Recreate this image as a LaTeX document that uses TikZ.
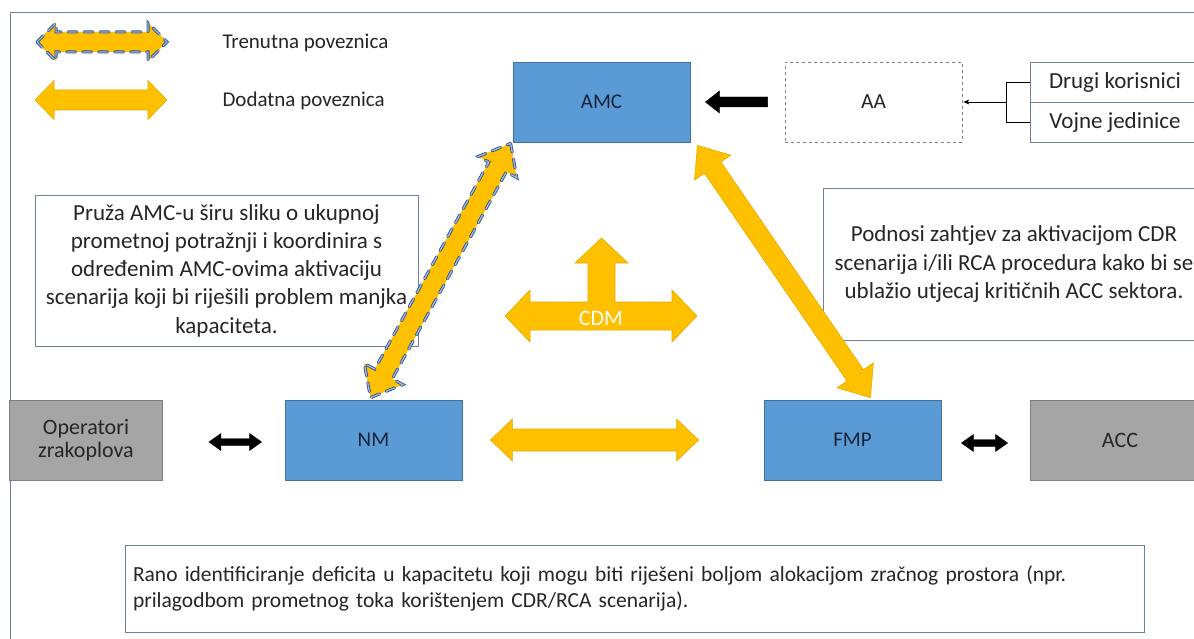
\documentclass[tikz,border=0pt]{standalone}
\usepackage{fontspec}
\setmainfont{Carlito}
\usetikzlibrary{calc,arrows.meta}
\definecolor{boxblue}{HTML}{5B9BD5}
\definecolor{boxblueedge}{HTML}{41719C}
\definecolor{boxgray}{HTML}{A5A5A5}
\definecolor{grayedge}{HTML}{7F7F7F}
\definecolor{orng}{HTML}{FFC000}
\definecolor{orngedge}{HTML}{E6AC00}
\definecolor{frameclr}{HTML}{6F8196}
\definecolor{txt}{HTML}{262626}
\definecolor{navytxt}{HTML}{17243A}
\definecolor{dashdark}{HTML}{2F4E86}
\definecolor{dashlight}{HTML}{9CB6DE}

% double-headed fat arrow: style, start, end, shaft half width, head half width, head length
\newcommand{\fatdarrow}[6]{%
  \coordinate (fa1) at ($(#2)!#6!(#3)$);
  \coordinate (fa2) at ($(#3)!#6!(#2)$);
  \path[#1] (#2) -- ($(fa1)!#5!90:(#3)$) -- ($(fa1)!#4!90:(#3)$)
    -- ($(fa2)!#4!-90:(#2)$) -- ($(fa2)!#5!-90:(#2)$) -- (#3)
    -- ($(fa2)!#5!90:(#2)$) -- ($(fa2)!#4!90:(#2)$)
    -- ($(fa1)!#4!-90:(#3)$) -- ($(fa1)!#5!-90:(#3)$) -- cycle;
}
% single-headed fat arrow (tip at end)
\newcommand{\fatsarrow}[6]{%
  \coordinate (fa2) at ($(#3)!#6!(#2)$);
  \path[#1] ($(#2)!#4!90:(#3)$)
    -- ($(fa2)!#4!-90:(#2)$) -- ($(fa2)!#5!-90:(#2)$) -- (#3)
    -- ($(fa2)!#5!90:(#2)$) -- ($(fa2)!#4!90:(#2)$)
    -- ($(#2)!#4!-90:(#3)$) -- cycle;
}

\tikzset{
  bluebox/.style={rectangle, fill=boxblue, draw=boxblueedge, line width=0.8pt,
    minimum width=177pt, minimum height=80pt, text=navytxt,
    font=\fontsize{21}{25}\selectfont},
  graybox/.style={rectangle, fill=boxgray, draw=grayedge, line width=0.8pt,
    minimum height=80pt, text=txt, align=center,
    font=\fontsize{22}{26}\selectfont},
  aabox/.style={rectangle, fill=white, draw=grayedge, dashed, line width=0.8pt,
    minimum width=177pt, minimum height=80pt, text=txt,
    font=\fontsize{21.5}{25}\selectfont},
  listbox/.style={rectangle, fill=white, draw=frameclr, line width=0.8pt,
    minimum width=170pt, minimum height=40pt, text=txt,
    font=\fontsize{23}{26}\selectfont},
  textbox/.style={rectangle, fill=white, draw=frameclr, line width=0.8pt,
    align=center, text=txt, inner sep=0pt,
    font=\fontsize{23}{28.3}\selectfont},
  legendtxt/.style={anchor=west, text=txt, font=\fontsize{21}{25}\selectfont},
  orfill/.style={fill=orng, draw=orngedge, line width=0.6pt, line join=miter},
  blfill/.style={fill=black, draw=black, line width=0.4pt},
  dashout/.style={draw=dashdark, line width=3pt, dash pattern=on 9pt off 7pt, line cap=round},
  dashin/.style={draw=dashlight, line width=1.4pt, dash pattern=on 9pt off 7pt, line cap=round},
}

\begin{document}
\begin{tikzpicture}[x=1pt,y=-1pt]
\useasboundingbox (0,0) rectangle (1194,639);
\clip (0,0) rectangle (1194,639);
\fill[white] (0,0) rectangle (1194,639);

% outer frame
\draw[frameclr, line width=0.8pt] (10,660) -- (10,12) -- (1210,12);

% text boxes (drawn first so that the arrows lie over them)
\node[textbox, minimum width=383pt, minimum height=151pt] (tl) at (226.5,270.5)
  {Pruža AMC-u širu sliku o ukupnoj\\prometnoj potražnji i koordinira s\\određenim AMC-ovima aktivaciju\\scenarija koji bi riješili problem manjka\\kapaciteta.};
\node[textbox, minimum width=382pt, minimum height=152pt] (tr) at (1014,264)
  {Podnosi zahtjev za aktivacijom CDR\\scenarija i/ili RCA procedura kako bi se\\ublažio utjecaj kritičnih ACC sektora.};
\node[textbox, align=left, minimum width=1019pt, minimum height=87pt, text width=1003pt,
  font=\fontsize{21.5}{25.5}\selectfont] (tb) at (634.5,588.5)
  {Rano identificiranje deficita u kapacitetu koji mogu biti riješeni boljom alokacijom zračnog prostora (npr.\\prilagodbom prometnog toka korištenjem CDR/RCA scenarija).};

% legend
\coordinate (lg1a) at (37,42);
\coordinate (lg1b) at (167,42);
\coordinate (lg2a) at (35,100);
\coordinate (lg2b) at (167,100);
\fatdarrow{fill=orng}{lg1a}{lg1b}{10pt}{19pt}{19pt}
\fatdarrow{dashout}{lg1a}{lg1b}{10pt}{19pt}{19pt}
\fatdarrow{dashin}{lg1a}{lg1b}{10pt}{19pt}{19pt}
\fatdarrow{orfill}{lg2a}{lg2b}{10pt}{19.5pt}{19pt}
\node[legendtxt] (lt1) at (219,43) {Trenutna poveznica};
\node[legendtxt] (lt2) at (219,101) {Dodatna poveznica};

% top row
\node[bluebox] (amc) at (601.5,102) {AMC};
\node[aabox] (aa) at (873.5,102) {AA};
\node[listbox] (drugi) at (1115,82) {Drugi korisnici};
\node[listbox] (vojne) at (1115,122) {Vojne jedinice};
\coordinate (brk) at ($(drugi.west)!0.5!(vojne.west)+(-23,0)$);
\draw[black, line width=0.7pt] (drugi.west) -- ++(-23,0) |- (vojne.west);
\draw[black, line width=0.7pt, -{Stealth[length=6pt,width=5pt]}] (brk) -- ($(aa.east)+(1,0)$);
\coordinate (aaw) at ($(aa.west)+(-17,0)$);
\coordinate (amce) at ($(amc.east)+(15,0)$);
\fatsarrow{blfill}{aaw}{amce}{5pt}{11pt}{14pt}

% bottom row
\node[graybox, minimum width=153pt] (op) at (86,440) {Operatori\\[-3pt]zrakoplova};
\node[bluebox] (nm) at (373.5,440) {NM};
\node[bluebox] (fmp) at (852.5,440) {FMP};
\node[graybox, minimum width=180pt] (acc) at (1120,440) {ACC};

\coordinate (b1a) at ($(op.east)+(46,2)$);
\coordinate (b1b) at ($(nm.west)+(-23,2)$);
\fatdarrow{blfill}{b1a}{b1b}{3.5pt}{8.5pt}{12pt}
\coordinate (b2a) at ($(fmp.east)+(20,3)$);
\coordinate (b2b) at ($(acc.west)+(-22,3)$);
\fatdarrow{blfill}{b2a}{b2b}{3.5pt}{8.5pt}{12pt}

\coordinate (o1a) at ($(nm.east)+(28,0)$);
\coordinate (o1b) at ($(fmp.west)+(-65,0)$);
\fatdarrow{orfill}{o1a}{o1b}{11pt}{21pt}{22pt}

% diagonal links
\coordinate (d1a) at ($(amc.south west)+(-2,1)$);
\coordinate (d1b) at ($(nm.north)+(-3,-2)$);
\fatdarrow{fill=orng}{d1a}{d1b}{10pt}{22pt}{27pt}
\fatdarrow{dashout}{d1a}{d1b}{10pt}{22pt}{27pt}
\fatdarrow{dashin}{d1a}{d1b}{10pt}{22pt}{27pt}

\coordinate (d2a) at ($(amc.south east)+(7,3)$);
\coordinate (d2b) at ($(fmp.north)+(18,-2)$);
\fatdarrow{orfill}{d2a}{d2b}{10pt}{22pt}{27pt}

% CDM
\path[orfill] (505,316) -- (530,290) -- (530,302) -- (588,302) -- (588,263)
  -- (575,263) -- (601.5,238) -- (628,263) -- (615,263) -- (615,302)
  -- (672,302) -- (672,290) -- (697,316) -- (672,342) -- (672,330)
  -- (530,330) -- (530,342) -- cycle;
\node[text=white, font=\fontsize{22}{26}\selectfont] (cdm) at (601,318) {CDM};
\end{tikzpicture}
\end{document}
